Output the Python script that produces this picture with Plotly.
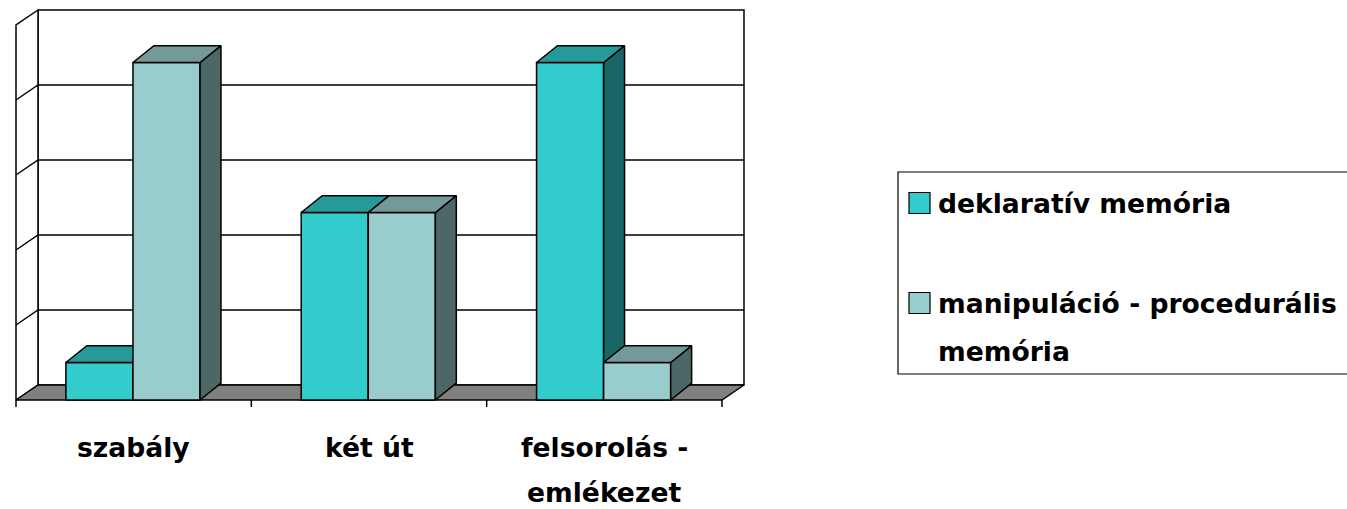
import plotly.graph_objects as go

# ---- data -------------------------------------------------------------
categories = ["szabály", "két út", "felsorolás -\nemlékezet"]
series_names = ["deklaratív memória", "manipuláció - procedurális\nmemória"]
deklarativ = [1, 5, 9]
manipulacio = [9, 5, 1]
y_max = 10
y_step = 2

# ---- styling ----------------------------------------------------------
FONT = dict(family="DejaVu Sans", size=26.6, color="black", weight="bold")
FRONT = ["#33CCCC", "#99CCCC"]
TOP = ["#269999", "#739999"]
SIDE = ["#1A6666", "#4D6666"]
FLOOR = "#808080"
LINE = dict(color="black", width=1.5)

W, H = 1347, 509
PX_X = 235.33          # pixels per category
PX_Y = 37.5            # pixels per value unit
X0_PX, Y0_PX = 16, 400  # pixel position of (x=-0.5, y=0)

x_range = [-0.5 - X0_PX / PX_X, -0.5 + (W - X0_PX) / PX_X]
y_range = [-(H - Y0_PX) / PX_Y, Y0_PX / PX_Y]

BAR_W = 0.285
OFFSETS = [-0.288, -0.003]
DX, DY = 0.089, 0.45      # bar depth
DXW, DYW = 0.0935, 0.40   # wall depth
n = len(categories)
xs = list(range(n))

fig = go.Figure()


def poly(xp, yp, fill, axis=("x", "y"), width=1.5):
    fig.add_trace(go.Scatter(
        x=xp, y=yp, mode="lines", fill="toself", fillcolor=fill,
        line=dict(color="black", width=width), hoverinfo="skip",
        showlegend=False, xaxis=axis[0], yaxis=axis[1]))


# ---- walls and floor (base axes) --------------------------------------
xl, xr = -0.5, n - 0.5
# back wall
poly([xl + DXW, xr + DXW, xr + DXW, xl + DXW, xl + DXW],
     [DYW, DYW, y_max + DYW, y_max + DYW, DYW], "white")
# left wall
poly([xl, xl, xl + DXW, xl + DXW, xl],
     [0, y_max, y_max + DYW, DYW, 0], "white")

# gridlines on both walls
gx, gy = [], []
for v in range(y_step, y_max, y_step):
    gx += [xl, xl + DXW, xr + DXW, None]
    gy += [v, v + DYW, v + DYW, None]
fig.add_trace(go.Scatter(x=gx, y=gy, mode="lines", line=LINE,
                         hoverinfo="skip", showlegend=False))

# floor
poly([xl, xr, xr + DXW, xl + DXW, xl], [0, 0, DYW, DYW, 0], FLOOR)

# category tick marks below the floor edge
tx, ty = [], []
for b in range(n + 1):
    tx += [b - 0.5, b - 0.5, None]
    ty += [0, -7 / PX_Y, None]
fig.add_trace(go.Scatter(x=tx, y=ty, mode="lines", line=LINE,
                         hoverinfo="skip", showlegend=False))

# ---- 3D columns: each series on its own overlaid axes -----------------
for s, values in enumerate([deklarativ, manipulacio]):
    ax = ("x%d" % (s + 2), "y%d" % (s + 2))
    fig.add_trace(go.Bar(
        x=xs, y=values, width=BAR_W, offset=OFFSETS[s],
        marker=dict(color=FRONT[s], line=dict(color="black", width=1.5)),
        name=series_names[s].replace("\n", " "), showlegend=False,
        hoverinfo="skip", xaxis=ax[0], yaxis=ax[1]))
    sx, sy, tpx, tpy = [], [], [], []
    for i, v in enumerate(values):
        a = i + OFFSETS[s]
        b = a + BAR_W
        sx += [b, b + DX, b + DX, b, b, None]
        sy += [0, DY, v + DY, v, 0, None]
        tpx += [a, b, b + DX, a + DX, a, None]
        tpy += [v, v, v + DY, v + DY, v, None]
    poly(sx, sy, SIDE[s], ax)
    poly(tpx, tpy, TOP[s], ax)

# ---- axes ---------------------------------------------------------------
hidden = dict(visible=False, fixedrange=True)
layout = dict(
    width=W, height=H, margin=dict(l=0, r=0, t=0, b=0),
    paper_bgcolor="white", plot_bgcolor="white", hovermode=False,
    showlegend=False, barmode="overlay",
    xaxis=dict(range=x_range, **hidden),
    yaxis=dict(range=y_range, **hidden),
)
for k in (2, 3):
    layout["xaxis%d" % k] = dict(range=x_range, overlaying="x", **hidden)
    layout["yaxis%d" % k] = dict(range=y_range, overlaying="y", **hidden)
fig.update_layout(**layout)

# ---- category labels ------------------------------------------------------
LINE_GAP = 45 / PX_Y
for i, cat in enumerate(categories):
    for j, part in enumerate(cat.split("\n")):
        fig.add_annotation(x=i, y=-47 / PX_Y - j * LINE_GAP, text=part,
                           showarrow=False, font=FONT, borderpad=0,
                           xanchor="center", yanchor="middle")

# ---- legend box -----------------------------------------------------------
def px(xp):
    return xp / W


def py(yp):
    return 1 - yp / H


fig.add_shape(type="rect", xref="paper", yref="paper",
              x0=px(898), x1=px(W + 20), y0=py(374), y1=py(172),
              line=dict(color="black", width=1.2), fillcolor="rgba(0,0,0,0)")
legend_rows = [203, 303]
for s, name in enumerate(series_names):
    cy = legend_rows[s]
    fig.add_shape(type="rect", xref="paper", yref="paper",
                  x0=px(909), x1=px(930), y0=py(cy + 10.5), y1=py(cy - 10.5),
                  line=dict(color="black", width=1.2), fillcolor=FRONT[s])
    for j, part in enumerate(name.split("\n")):
        fig.add_annotation(xref="paper", yref="paper", x=px(936),
                           y=py(cy + j * 48), text=part, showarrow=False,
                           font=FONT, xanchor="left", yanchor="middle")

fig.write_html("out.html")
